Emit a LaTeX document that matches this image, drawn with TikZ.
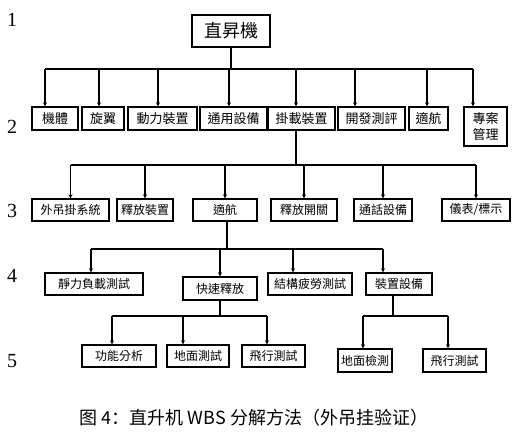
\documentclass[tikz,border=0pt]{standalone}
\usepackage{fontspec}
\setmainfont{Liberation Serif}
\newfontfamily\tcfont{Noto Sans CJK TC}
\newfontfamily\scfont{Noto Sans CJK SC}
\usetikzlibrary{arrows.meta}
\begin{document}
\begin{tikzpicture}[x=1pt,y=-1pt]
			\tikzstyle{box} = [draw=black, line width=1.4pt, inner sep=0, minimum height=22pt, font=\tcfont\fontsize{12}{12}\selectfont]
			\tikzstyle{down} = [-{Stealth[length=4pt,width=4pt]}, line width=1.1pt]
			\tikzstyle{bus} = [line width=1.1pt]
			\tikzstyle{level} = [font=\fontsize{20}{20}\selectfont]
			\useasboundingbox (0,0) rectangle (522,434);
			% levels
			\node [level] (n1) at (12,20) {1};
			\node [level] (n2) at (12,127) {2};
			\node [level] (n3) at (12,211) {3};
			\node [level] (n4) at (12,276) {4};
			\node [level] (n5) at (12,361) {5};
			% level 1
			\node [box, minimum width=78pt, minimum height=32pt, font=\tcfont\fontsize{18}{18}\selectfont] (heli) at (231,31) {直昇機};
			% level 2
			\node [box, minimum width=46pt, minimum height=23pt, font=\tcfont\fontsize{13}{13}\selectfont] (body) at (55,118.5) {機體};
			\node [box, minimum width=42pt, minimum height=23pt, font=\tcfont\fontsize{13}{13}\selectfont] (rotor) at (103,118.5) {旋翼};
			\node [box, minimum width=69pt, minimum height=23pt, font=\tcfont\fontsize{13}{13}\selectfont] (power) at (162.5,118.5) {動力裝置};
			\node [box, minimum width=67pt, minimum height=23pt, font=\tcfont\fontsize{13}{13}\selectfont] (general) at (233.5,118.5) {通用設備};
			\node [box, minimum width=67pt, minimum height=23pt, font=\tcfont\fontsize{13}{13}\selectfont] (mount) at (301.5,118.5) {掛載裝置};
			\node [box, minimum width=67pt, minimum height=23pt, font=\tcfont\fontsize{13}{13}\selectfont] (devtest) at (371.5,118.5) {開發測評};
			\node [box, minimum width=39pt, minimum height=23pt, font=\tcfont\fontsize{13}{13}\selectfont] (airw) at (428.5,118.5) {適航};
			\node [box, minimum width=43pt, minimum height=39pt, align=center, font=\tcfont\fontsize{13}{16}\selectfont] (project) at (485.5,126.5) {專案\\管理};
			% level 3
			\node [box, minimum width=77pt] (sling) at (70.5,210) {外吊掛系統};
			\node [box, minimum width=56pt] (release) at (145,210) {釋放裝置};
			\node [box, minimum width=64pt] (airw3) at (225,210) {適航};
			\node [box, minimum width=66pt] (switch) at (304,210) {釋放開關};
			\node [box, minimum width=58pt] (comm) at (383,210) {通話設備};
			\node [box, minimum width=68pt] (gauge) at (476,210) {儀表/標示};
			% level 4
			\node [box, minimum width=98pt] (static) at (94,284) {靜力負載測試};
			\node [box, minimum width=74pt, minimum height=23pt] (quick) at (220,288.5) {快速釋放};
			\node [box, minimum width=84pt] (fatigue) at (310,284) {結構疲勞測試};
			\node [box, minimum width=66pt] (equip) at (399,284) {裝置設備};
			% level 5
			\node [box, minimum width=74pt] (func) at (119,356) {功能分析};
			\node [box, minimum width=62pt] (ground) at (198,356) {地面測試};
			\node [box, minimum width=63pt] (flight) at (273.5,356) {飛行測試};
			\node [box, minimum width=54pt, minimum height=23pt] (gcheck) at (365,360.5) {地面檢測};
			\node [box, minimum width=63pt, minimum height=23pt] (flight2) at (454.5,360.5) {飛行測試};
			% caption
			\node [font=\scfont\fontsize{18}{18}\selectfont] (caption) at (254,418) {图 4：直升机 WBS 分解方法（外吊挂验证）};
			% buses
			\coordinate (b2) at (0,69);
			\coordinate (b3) at (0,165);
			\coordinate (b4) at (0,249);
			\coordinate (b5) at (0,316);
			\draw [bus] (heli.south) -- (heli.south |- b2);
			\draw [bus] ([xshift=-10pt]body.north |- b2) -- ([xshift=-12.5pt]project.north |- b2);
			\foreach \n/\s in {body/-10,rotor/-4,power/-4.5,general/-4.5,mount/-5.5,devtest/-16.5,airw/-1.5,project/-12.5}
			{
				\draw [down] ([xshift=\s pt]\n.north |- b2) -- ([xshift=\s pt]\n.north);
			}
			\draw [bus] ([xshift=-5.5pt]mount.south) -- ([xshift=-5.5pt]mount.south |- b3);
			\draw [bus] (sling.north |- b3) -- (gauge.north |- b3);
			\foreach \n in {sling,release,airw3,switch,comm,gauge}
			{
				\draw [down] (\n.north |- b3) -- (\n.north);
			}
			\draw [bus] ([xshift=2pt]airw3.south) -- ([xshift=2pt]airw3.south |- b4);
			\draw [bus] ([xshift=-3pt]static.north |- b4) -- ([xshift=-16pt]equip.north |- b4);
			\foreach \n/\s in {static/-3,quick/0,fatigue/-17,equip/-16}
			{
				\draw [down] ([xshift=\s pt]\n.north |- b4) -- ([xshift=\s pt]\n.north);
			}
			\draw [bus] (quick.south) -- (quick.south |- b5);
			\draw [bus] ([xshift=-7pt]func.north |- b5) -- ([xshift=-6.5pt]flight.north |- b5);
			\foreach \n/\s in {func/-7,ground/-15,flight/-6.5}
			{
				\draw [down] ([xshift=\s pt]\n.north |- b5) -- ([xshift=\s pt]\n.north);
			}
			\draw [bus] ([xshift=-6pt]equip.south) -- ([xshift=-6pt]equip.south |- b5);
			\draw [bus] ([xshift=-2pt]gcheck.north |- b5) -- ([xshift=-6.5pt]flight2.north |- b5);
			\foreach \n/\s in {gcheck/-2,flight2/-6.5}
			{
				\draw [down] ([xshift=\s pt]\n.north |- b5) -- ([xshift=\s pt]\n.north);
			}
\end{tikzpicture}
\end{document}
